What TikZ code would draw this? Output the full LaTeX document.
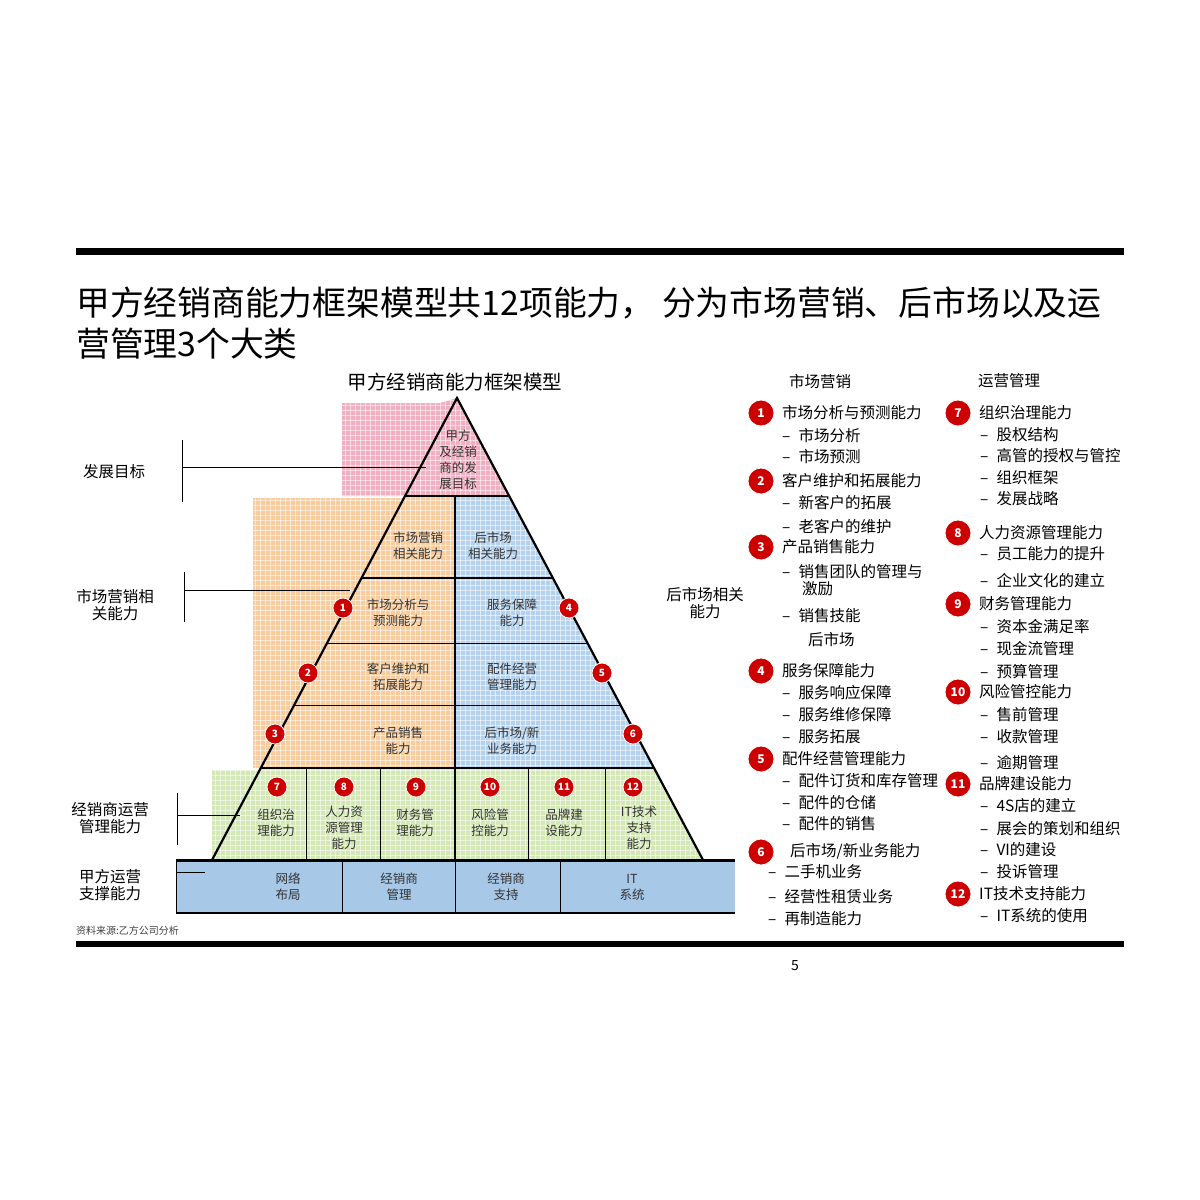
\documentclass[tikz,border=0pt]{standalone}
\usepackage{fontspec}
\setmainfont{Noto Sans CJK SC}
\begin{document}
\begin{tikzpicture}[x=1pt,y=-1pt,
  lbl/.style={align=center,font=\fontsize{15.5}{17}\selectfont,inner sep=0},
  cell/.style={align=center,font=\fontsize{12.5}{16}\selectfont,text=black!80,inner sep=0},
  num/.style={circle,fill=red!80!black,draw=white,line width=0.8pt,text=white,font=\bfseries\fontsize{10}{10}\selectfont,inner sep=0,minimum size=20pt},
  bnum/.style={num,minimum size=26pt,font=\bfseries\fontsize{12}{12}\selectfont},
  item/.style={anchor=west,font=\fontsize{15.5}{17}\selectfont,inner sep=0},
  pl/.style={line width=2.2pt},
  gridfill/.style={fill=#1,path picture={
    \foreach \i in {0,...,110} {\draw[white,line width=0.3pt,opacity=0.55] (170+5*\i,390) -- (170+5*\i,870);}
    \foreach \j in {0,...,96} {\draw[white,line width=0.3pt,opacity=0.55] (170,390+5*\j) -- (730,390+5*\j);}}}]
\useasboundingbox (0,0) rectangle (1200,1200);
\definecolor{cpink}{HTML}{F2AFC2}\definecolor{corange}{HTML}{F8CC9C}
\definecolor{cblue}{HTML}{B4D1EE}\definecolor{cgreen}{HTML}{D3E8B4}\definecolor{cbase}{HTML}{A8C8E8}
% bars
\fill (76,248) rectangle (1124,255);
\fill (76,941) rectangle (1124,947);
\node[anchor=west,inner sep=0,font=\fontsize{33.8}{40}\selectfont] (t1) at (76,303) {甲方经销商能力框架模型共12项能力， 分为市场营销、后市场以及运};
\node[anchor=west,inner sep=0,font=\fontsize{33.8}{40}\selectfont] (t2) at (76,344) {营管理3个大类};
\node[font=\fontsize{19.5}{22}\selectfont] (ptitle) at (455,382) {甲方经销商能力框架模型};
% fills
\path[gridfill=cpink] (342,403) -- (440,403) -- (457,398) -- (508,496) -- (342,496) -- cycle;
\path[gridfill=corange] (253,498) -- (404,498) -- (405,496) -- (455,496) -- (455,768) -- (253,768) -- cycle;
\path[gridfill=cblue] (455,496) -- (508,496) -- (653,768) -- (455,768) -- cycle;
\path[gridfill=cgreen] (212,770) -- (261,770) -- (261,768) -- (653,768) -- (703,860) -- (212,860) -- cycle;
\fill[cbase] (176,860) rectangle (735,913);
% pyramid lines
\coordinate (apex) at (457,398);
\coordinate (bl) at (212,860); \coordinate (br) at (703,860);
\draw[pl,line join=miter] (bl) -- (apex) -- (br);
\draw[pl] (405,496) -- (508,496);
\draw[pl] (362,578) -- (553,578);
\draw[line width=1pt] (328,643) -- (587,643);
\draw[line width=1pt] (295,705) -- (620,705);
\draw[pl] (261,768) -- (653,768);
\draw[pl] (455,496) -- (455,860);
\foreach \x in {306,380,528,605} \draw[line width=1pt] (\x,768) -- (\x,860);
% base bar
\draw[line width=3pt] (176,860) -- (735,860);
\draw[line width=2pt] (176,913) -- (735,913);
\draw[line width=1pt] (176,860) -- (176,913);
\foreach \x in {342,455,560} \draw[line width=1pt] (\x,860) -- (\x,913);
% cell texts
\node[cell] (c0) at (458,460) {甲方\\及经销\\商的发\\展目标};
\node[cell] (c1) at (418,546) {市场营销\\相关能力};
\node[cell] (c2) at (493,546) {后市场\\相关能力};
\node[cell] (c3) at (398,613) {市场分析与\\预测能力};
\node[cell] (c4) at (512,613) {服务保障\\能力};
\node[cell] (c5) at (398,677) {客户维护和\\拓展能力};
\node[cell] (c6) at (512,677) {配件经营\\管理能力};
\node[cell] (c7) at (398,741) {产品销售\\能力};
\node[cell] (c8) at (512,741) {后市场/新\\业务能力};
\node[cell] (g1) at (276,823) {组织治\\理能力};
\node[cell,anchor=north] (g2) at (344,806) {人力资\\源管理\\能力};
\node[cell] (g3) at (415,823) {财务管\\理能力};
\node[cell] (g4) at (490,823) {风险管\\控能力};
\node[cell] (g5) at (564,823) {品牌建\\设能力};
\node[cell,anchor=north] (g6) at (639,806) {IT技术\\支持\\能力};
\node[cell] (b1) at (288,887) {网络\\布局};
\node[cell] (b2) at (399,887) {经销商\\管理};
\node[cell] (b3) at (506,887) {经销商\\支持};
\node[cell] (b4) at (632,887) {IT\\系统};
% markers
\foreach \n/\x/\y in {1/343/608,2/308/673,3/275/734,4/569/608,5/602/673,6/633/734,7/277/787,8/344/787,9/416/787,10/490/787,11/564/787,12/633/787}
  \node[num] (m\n) at (\x,\y) {\n};
% left labels
\node[lbl] (L1) at (114,472) {发展目标};
\draw[line width=1pt] (182,440) -- (182,502);
\coordinate (L1e) at (426,467); \draw[line width=1pt] (182,467) -- (L1e);
\node[lbl] (L2) at (115,605) {市场营销相\\关能力};
\draw[line width=1pt] (184,572) -- (184,622);
\coordinate (L2e) at (350,590); \draw[line width=1pt] (184,590) -- (L2e);
\node[lbl] (L3) at (110,818) {经销商运营\\管理能力};
\draw[line width=1pt] (177,793) -- (177,845);
\coordinate (L3e) at (240,815); \draw[line width=1pt] (177,815) -- (L3e);
\node[lbl] (L4) at (110,885) {甲方运营\\支撑能力};
\coordinate (L4e) at (205,872); \draw[line width=1pt] (177,872) -- (L4e);
\node[lbl] (R1) at (705,603) {后市场相关\\能力};
\node[anchor=west,inner sep=0,font=\fontsize{10}{12}\selectfont,text=black!75] (src) at (76,931) {资料来源:乙方公司分析};
\node[font=\fontsize{14}{16}\selectfont] (pg) at (795,966) {5};
% right lists
\node[item] (h1) at (789,382) {市场营销};
\node[item] (h2) at (978,381) {运营管理};
\foreach \n/\y/\t in {1/413/市场分析与预测能力,2/481/客户维护和拓展能力,3/547/产品销售能力,4/671/服务保障能力,5/759/配件经营管理能力}
  {\node[bnum] (r\n) at (761,\y) {\n}; \node[item] (rt\n) at (782,\y) {\t};}
\node[bnum] (r6) at (761,852) {6}; \node[item] (rt6) at (790,851) {后市场/新业务能力};
\foreach \y/\t in {436/市场分析,457/市场预测,503/新客户的拓展,527/老客户的维护,572/销售团队的管理与,616/销售技能,693/服务响应保障,715/服务维修保障,737/服务拓展,781/配件订货和库存管理,803/配件的仓储,824/配件的销售}
  {\node[item] at (782,\y) {–\hspace{8pt}\t};}
\node[item] (ji) at (802,589) {激励};
\node[item] (hsc) at (808,640) {后市场};
\foreach \y/\t in {872/二手机业务,897/经营性租赁业务,919/再制造能力}
  {\node[item] at (768,\y) {–\hspace{8pt}\t};}
\foreach \n/\y/\t in {7/413/组织治理能力,8/533/人力资源管理能力,9/604/财务管理能力,10/692/风险管控能力,11/784/品牌建设能力,12/894/IT技术支持能力}
  {\node[bnum] (s\n) at (958,\y) {\n}; \node[item] (st\n) at (979,\y) {\t};}
\foreach \y/\t in {435/股权结构,456/高管的授权与管控,478/组织框架,499/发展战略,554/员工能力的提升,581/企业文化的建立,627/资本金满足率,649/现金流管理,672/预算管理,715/售前管理,737/收款管理,763/逾期管理,806/4S店的建立,829/展会的策划和组织,850/VI的建设,872/投诉管理,916/IT系统的使用}
  {\node[item] at (980,\y) {–\hspace{8pt}\t};}
\end{tikzpicture}
\end{document}
